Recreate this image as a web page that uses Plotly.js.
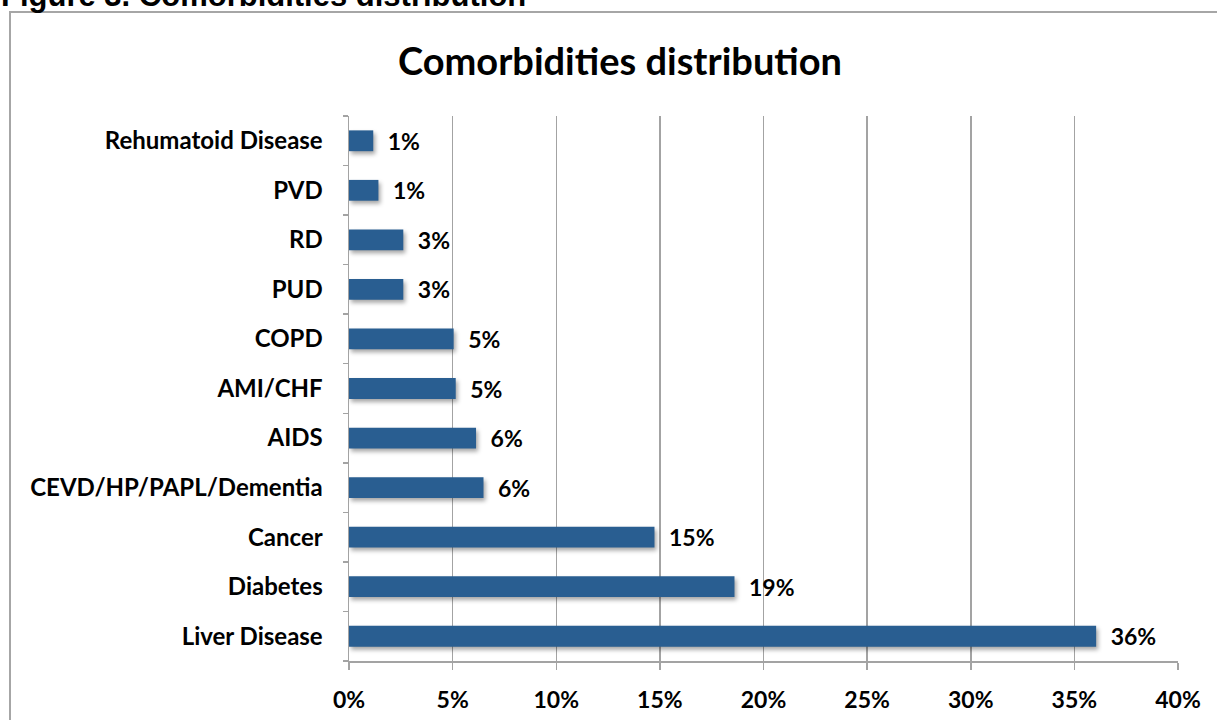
<!DOCTYPE html>
<html>
<head>
<meta charset="utf-8">
<script src="https://cdn.plot.ly/plotly-3.0.1.min.js"></script>
<style>
  html, body { margin: 0; padding: 0; background: #ffffff; }
  #chart { width: 1217px; height: 720px; }
  /* soft drop shadow under each bar */
  #chart .barlayer .point path { filter: drop-shadow(2px 3px 2px rgba(0,0,0,0.35)); }
</style>
</head>
<body>
<div id="chart"></div>
<script>
// Comorbidity categories, bottom to top
const categories = [
  'Liver Disease',
  'Diabetes',
  'Cancer',
  'CEVD/HP/PAPL/Dementia',
  'AIDS',
  'AMI/CHF',
  'COPD',
  'PUD',
  'RD',
  'PVD',
  'Rehumatoid Disease'
];

// Share of patients with each comorbidity
const shares = [0.3605, 0.186, 0.1474, 0.0649, 0.0613, 0.0515, 0.0505, 0.0262, 0.0262, 0.0142, 0.0117];

// Percent axis ticks
const tickValues = [0, 0.05, 0.10, 0.15, 0.20, 0.25, 0.30, 0.35, 0.40];
const tickLabels = ['0%', '5%', '10%', '15%', '20%', '25%', '30%', '35%', '40%'];

const W = 1217, H = 720;
const plotL = 349, plotR = 1178, plotT = 116, plotB = 661;
const pw = plotR - plotL, ph = plotB - plotT;
// pixel -> paper helpers for the frame and caption
const px = x => (x - plotL) / pw;
const py = y => (plotB - y) / ph;

const boldFont = 'Lato, "Open Sans", sans-serif';
const labelSize = 23;

const trace = {
  type: 'bar',
  orientation: 'h',
  y: categories,
  x: shares,
  marker: { color: '#295e91', line: { width: 0 } },
  texttemplate: '\u2002%{x:.0%}',
  textposition: 'outside',
  constraintext: 'none',
  cliponaxis: false,
  textfont: { family: boldFont, size: labelSize, color: '#000000', weight: 700 },
  hoverinfo: 'none'
};

const layout = {
  width: W,
  height: H,
  margin: { l: plotL, r: W - plotR, t: plotT, b: H - plotB, pad: 0 },
  paper_bgcolor: '#ffffff',
  plot_bgcolor: '#ffffff',
  showlegend: false,
  bargap: 0.58,
  title: {
    text: 'Comorbidities distribution',
    font: { family: boldFont, size: 38, color: '#000000', weight: 700 },
    x: 620 / W, xref: 'container', xanchor: 'center',
    y: 1 - 62 / H, yref: 'container', yanchor: 'middle'
  },
  xaxis: {
    range: [0, 0.4],
    tickmode: 'array',
    tickvals: tickValues,
    ticktext: tickLabels,
    showgrid: true,
    gridcolor: '#a3a3a3',
    gridwidth: 1.5,
    zeroline: false,
    showline: true,
    linecolor: '#a3a3a3',
    linewidth: 1.5,
    ticks: 'outside',
    ticklen: 7,
    tickwidth: 1.5,
    tickcolor: '#a3a3a3',
    ticklabelstandoff: 11,
    tickfont: { family: boldFont, size: labelSize, color: '#000000', weight: 700 },
    fixedrange: true
  },
  yaxis: {
    type: 'category',
    categoryorder: 'array',
    categoryarray: categories,
    showgrid: false,
    zeroline: false,
    showline: true,
    linecolor: '#a3a3a3',
    linewidth: 1.5,
    ticks: 'outside',
    tickson: 'boundaries',
    ticklen: 5,
    tickwidth: 1.5,
    tickcolor: '#a3a3a3',
    ticklabelstandoff: 20,
    tickfont: { family: boldFont, size: 24, color: '#000000', weight: 700 },
    fixedrange: true
  },
  shapes: [
    {
      type: 'rect', xref: 'paper', yref: 'paper', layer: 'below',
      x0: px(10), x1: px(W + 20), y0: py(12), y1: py(H + 20),
      line: { color: '#a6a6a6', width: 2 }, fillcolor: 'rgba(0,0,0,0)'
    }
  ],
  annotations: [
    {
      text: 'Figure 3. Comorbidities distribution',
      xref: 'paper', yref: 'paper',
      x: px(-1), xanchor: 'left',
      y: py(-5), yanchor: 'middle',
      showarrow: false,
      font: { family: '"Liberation Sans", Arial, sans-serif', size: 31, color: '#000000', weight: 700 }
    }
  ]
};

Plotly.newPlot('chart', [trace], layout, { displayModeBar: false, staticPlot: true });
</script>
</body>
</html>
